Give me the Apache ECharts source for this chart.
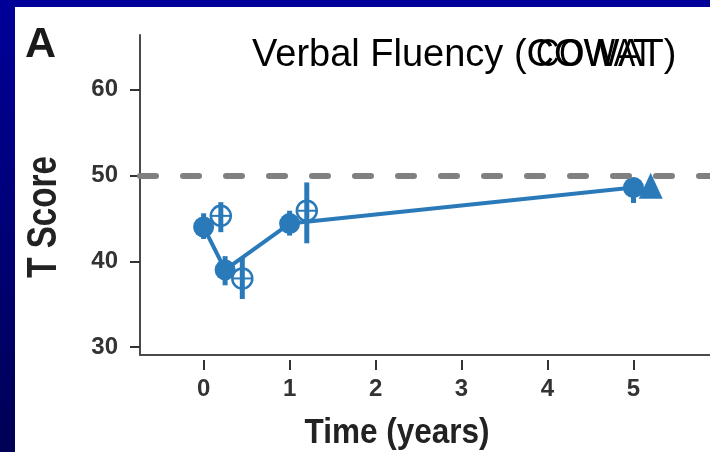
<!DOCTYPE html>
<html>
<head>
<meta charset="utf-8">
<script src="https://cdn.jsdelivr.net/npm/echarts@6/dist/echarts.min.js"></script>
<style>
html,body{margin:0;padding:0;background:#fff;}
#c{width:710px;height:452px;}
</style>
</head>
<body>
<div id="c"></div>
<script>
// Group with line (filled circles)
const yearsA = [0, 0.25, 1, 5];
const meanA  = [44.0, 39.0, 44.4, 48.6];
const lowA   = [42.6, 37.2, 43.0, 46.8];
const highA  = [45.6, 40.6, 45.9, 49.6];
// Open circles with cross
const yearsB = [0.2, 0.45, 1.2];
const meanB  = [45.3, 38.0, 45.9];
const lowB   = [43.4, 35.6, 42.1];
const highB  = [46.9, 40.5, 49.2];
// Triangle
const yearsC = [5.2];
const meanC  = [48.8];
// Axes
const xTicks = [0, 1, 2, 3, 4, 5];
const yTicks = [30, 40, 50, 60];
const refScore = 50;
const titleText = 'Verbal Fluency (COWAT)';
const xName = 'Time (years)';
const yName = 'T Score';
const panelLabel = 'A';

const BLUE = '#2a7aba';
const XMIN = -0.74, XMAX = 5.89, YMIN = 29.07, YMAX = 66.4;
const FONT = '"Liberation Sans", Arial, sans-serif';

const chart = echarts.init(document.getElementById('c'), null, {renderer: 'canvas'});

function errBars(xs, lo, hi, w) {
  return {
    type: 'custom',
    xAxisIndex: 0, yAxisIndex: 0,
    data: xs.map((x, i) => [x, lo[i], hi[i]]),
    renderItem: function (params, api) {
      const a = api.coord([api.value(0), api.value(1)]);
      const b = api.coord([api.value(0), api.value(2)]);
      return {type: 'line', shape: {x1: a[0], y1: a[1], x2: b[0], y2: b[1]},
        style: {stroke: BLUE, lineWidth: w}};
    },
    z: 3
  };
}

const option = {
  backgroundColor: '#ffffff',
  animation: false,
  grid: {left: 140, right: 0, top: 35, bottom: 97, outerBoundsMode: 'none'},
  xAxis: [
    {type: 'value', min: XMIN, max: XMAX, position: 'bottom',
      axisLine: {show: true, onZero: false, lineStyle: {color: '#4a4a4a', width: 2}},
      axisTick: {show: false}, axisLabel: {show: false}, splitLine: {show: false}},
    {type: 'value', min: XMIN, max: XMAX, position: 'bottom', offset: 5,
      axisLine: {show: false, onZero: false},
      axisTick: {show: true, customValues: xTicks, length: 10, lineStyle: {color: '#333', width: 2}},
      axisLabel: {customValues: xTicks, margin: 17, fontSize: 24, fontWeight: 'bold', color: '#333',
        fontFamily: FONT},
      splitLine: {show: false}}
  ],
  yAxis: {type: 'value', min: YMIN, max: YMAX,
    axisLine: {show: true, onZero: false, lineStyle: {color: '#4a4a4a', width: 2}},
    axisTick: {show: true, customValues: yTicks, length: 10, lineStyle: {color: '#333', width: 2}},
    axisLabel: {customValues: yTicks, margin: 22, fontSize: 24, fontWeight: 'bold', color: '#333',
      fontFamily: FONT},
    splitLine: {show: false}},
  series: [
    errBars(yearsA, lowA, highA, 5),
    {type: 'line', xAxisIndex: 0, data: yearsA.map((x, i) => [x, meanA[i]]),
      symbol: 'circle', symbolSize: 21, itemStyle: {color: BLUE, opacity: 1},
      lineStyle: {color: BLUE, width: 4}, z: 4,
      markLine: {silent: true, symbol: 'none', label: {show: false}, z: 10,
        lineStyle: {color: '#808080', width: 6, type: [16, 27], cap: 'round', opacity: 1},
        data: [{yAxis: refScore}]}},
    errBars(yearsB, lowB, highB, 5),
    {type: 'custom', xAxisIndex: 0, yAxisIndex: 0,
      data: yearsB.map((x, i) => [x, meanB[i]]),
      renderItem: function (params, api) {
        const p = api.coord([api.value(0), api.value(1)]);
        const r = 10;
        return {type: 'group', children: [
          {type: 'circle', shape: {cx: p[0], cy: p[1], r: r}, style: {fill: 'none', stroke: BLUE, lineWidth: 2.5}},
          {type: 'line', shape: {x1: p[0] - r, y1: p[1], x2: p[0] + r, y2: p[1]}, style: {stroke: BLUE, lineWidth: 2}},
          {type: 'line', shape: {x1: p[0], y1: p[1] - r, x2: p[0], y2: p[1] + r}, style: {stroke: BLUE, lineWidth: 2}}
        ]};
      }, z: 5},
    {type: 'scatter', xAxisIndex: 0, data: yearsC.map((x, i) => [x, meanC[i]]),
      symbol: 'triangle', symbolSize: [24, 26], itemStyle: {color: BLUE, opacity: 1}, z: 5}
  ],
  graphic: [
    {type: 'rect', left: 0, top: 0, shape: {width: 15, height: 452}, z: 100,
      style: {fill: new echarts.graphic.LinearGradient(0, 0, 0, 1, [{offset: 0, color: '#000099'}, {offset: 1, color: '#000055'}])}},
    {type: 'rect', left: 0, top: 0, shape: {width: 710, height: 7}, z: 100,
      style: {fill: '#000099'}},
    {type: 'text', x: 25, y: 24, z: 50,
      style: {text: panelLabel, font: 'bold 43px ' + FONT, fill: '#1a1a1a',
        textVerticalAlign: 'top'}},
    {type: 'text', x: 252, y: 37, z: 50,
      style: {text: titleText, font: '38px ' + FONT, fill: '#000', textVerticalAlign: 'top'}},
    {type: 'text', x: 536, y: 37, scaleX: 0.85, z: 50,
      style: {text: 'COWAT', font: '38px ' + FONT, fill: '#000', textVerticalAlign: 'top'}},
    {type: 'text', x: 397, y: 433, scaleX: 0.9, z: 50,
      style: {text: xName, font: 'bold 35px ' + FONT, fill: '#222',
        textAlign: 'center', textVerticalAlign: 'middle'}},
    {type: 'text', x: 44, y: 217, rotation: Math.PI / 2, scaleX: 0.79, z: 50,
      style: {text: yName, font: 'bold 42px ' + FONT, fill: '#222',
        textAlign: 'center', textVerticalAlign: 'middle'}}
  ]
};
chart.setOption(option);
</script>
</body>
</html>
